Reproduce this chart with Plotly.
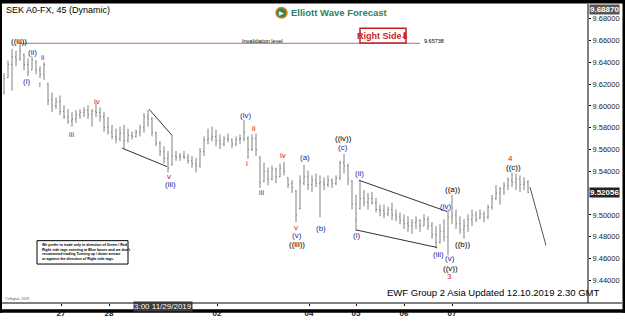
import plotly.graph_objects as go

# ---------------- data (45-min bars, sampled) ----------------
bar_index = list(range(132))
highs = [9.6300, 9.6416, 9.6523, 9.6506, 9.6574, 9.6479, 9.6434, 9.6452, 9.6416, 9.6363,
         9.6399, 9.6211, 9.6122, 9.6077, 9.6095, 9.6006, 9.5970, 9.5943, 9.5961, 9.5970,
         9.5988, 9.6006, 9.5970, 9.6023, 9.5988, 9.5943, 9.5898, 9.5827, 9.5791, 9.5809,
         9.5827, 9.5791, 9.5764, 9.5782, 9.5827, 9.5934, 9.5961, 9.5898, 9.5764, 9.5675,
         9.5630, 9.5586, 9.5729, 9.5586, 9.5568, 9.5586, 9.5559, 9.5541, 9.5523, 9.5613,
         9.5720, 9.5791, 9.5809, 9.5782, 9.5738, 9.5720, 9.5747, 9.5702, 9.5720, 9.5738,
         9.5872, 9.5720, 9.5738, 9.5747, 9.5541, 9.5479, 9.5434, 9.5452, 9.5434, 9.5470,
         9.5488, 9.5345, 9.5318, 9.5229, 9.5363, 9.5461, 9.5407, 9.5363, 9.5380, 9.5363,
         9.5345, 9.5363, 9.5336, 9.5363, 9.5497, 9.5559, 9.5470, 9.5318, 9.5184, 9.5318,
         9.5229, 9.5202, 9.5211, 9.5157, 9.5095, 9.5095, 9.5077, 9.5113, 9.5050, 9.5023,
         9.5005, 9.4988, 9.4961, 9.4988, 9.4961, 9.5005, 9.4988, 9.4934, 9.4898, 9.4916,
         9.4961, 9.5050, 9.5184, 9.5050, 9.4988, 9.4961, 9.5005, 9.5050, 9.5032, 9.5050,
         9.5032, 9.5095, 9.5184, 9.5273, 9.5256, 9.5300, 9.5345, 9.5389, 9.5380, 9.5363,
         9.5345, 9.5318]
lows = [9.6104, 9.6256, 9.6140, 9.6363, 9.6416, 9.6327, 9.6273, 9.6327, 9.6291, 9.6256,
        9.6238, 9.6006, 9.5943, 9.5970, 9.5916, 9.5881, 9.5836, 9.5809, 9.5845, 9.5881,
        9.5898, 9.5881, 9.5809, 9.5898, 9.5854, 9.5764, 9.5738, 9.5693, 9.5657, 9.5675,
        9.5613, 9.5666, 9.5693, 9.5711, 9.5720, 9.5755, 9.5809, 9.5720, 9.5630, 9.5541,
        9.5470, 9.5389, 9.5452, 9.5497, 9.5497, 9.5514, 9.5470, 9.5434, 9.5389, 9.5434,
        9.5541, 9.5648, 9.5675, 9.5630, 9.5604, 9.5630, 9.5666, 9.5613, 9.5630, 9.5648,
        9.5675, 9.5514, 9.5586, 9.5541, 9.5247, 9.5300, 9.5273, 9.5318, 9.5291, 9.5345,
        9.5363, 9.5247, 9.5202, 9.4934, 9.5050, 9.5273, 9.5229, 9.5211, 9.5256, 9.4979,
        9.5229, 9.5256, 9.5247, 9.5273, 9.5318, 9.5380, 9.5273, 9.5050, 9.4854, 9.5050,
        9.5077, 9.5050, 9.5095, 9.5023, 9.4988, 9.4970, 9.4988, 9.4952, 9.4943, 9.4916,
        9.4872, 9.4845, 9.4827, 9.4872, 9.4845, 9.4898, 9.4863, 9.4782, 9.4693, 9.4738,
        9.4756, 9.4630, 9.4916, 9.4872, 9.4827, 9.4782, 9.4845, 9.4898, 9.4934, 9.4961,
        9.4934, 9.4961, 9.5050, 9.5139, 9.5095, 9.5184, 9.5229, 9.5256, 9.5229, 9.5211,
        9.5229, 9.5202]
opens = [9.6120, 9.6260, 9.6380, 9.6450, 9.6430, 9.6470, 9.6380, 9.6330, 9.6410, 9.6330,
         9.6290, 9.6200, 9.6060, 9.6000, 9.6040, 9.5950, 9.5900, 9.5860, 9.5880, 9.5920,
         9.5940, 9.5960, 9.5920, 9.5950, 9.5940, 9.5900, 9.5800, 9.5760, 9.5720, 9.5700,
         9.5750, 9.5680, 9.5730, 9.5720, 9.5760, 9.5800, 9.5900, 9.5880, 9.5750, 9.5660,
         9.5580, 9.5520, 9.5460, 9.5540, 9.5530, 9.5540, 9.5530, 9.5500, 9.5470, 9.5450,
         9.5580, 9.5690, 9.5700, 9.5720, 9.5680, 9.5650, 9.5700, 9.5690, 9.5650, 9.5690,
         9.5700, 9.5700, 9.5600, 9.5700, 9.5520, 9.5310, 9.5400, 9.5330, 9.5420, 9.5350,
         9.5430, 9.5340, 9.5290, 9.5220, 9.5060, 9.5290, 9.5350, 9.5280, 9.5320, 9.5290,
         9.5300, 9.5280, 9.5320, 9.5290, 9.5340, 9.5480, 9.5450, 9.5310, 9.5100, 9.5060,
         9.5150, 9.5120, 9.5150, 9.5110, 9.5050, 9.5040, 9.5010, 9.5050, 9.5000, 9.4980,
         9.4950, 9.4920, 9.4900, 9.4930, 9.4950, 9.4900, 9.4960, 9.4900, 9.4820, 9.4750,
         9.4850, 9.4800, 9.4980, 9.5000, 9.4920, 9.4870, 9.4900, 9.4960, 9.5000, 9.4970,
         9.5010, 9.4980, 9.5070, 9.5150, 9.5200, 9.5240, 9.5270, 9.5320, 9.5300, 9.5330,
         9.5280, 9.5300]
closes = [9.6250, 9.6380, 9.6450, 9.6420, 9.6500, 9.6380, 9.6310, 9.6420, 9.6330, 9.6290,
          9.6380, 9.6050, 9.6000, 9.6040, 9.5950, 9.5900, 9.5860, 9.5880, 9.5920, 9.5940,
          9.5960, 9.5920, 9.5950, 9.5940, 9.5900, 9.5800, 9.5760, 9.5720, 9.5700, 9.5750,
          9.5680, 9.5730, 9.5720, 9.5760, 9.5800, 9.5900, 9.5880, 9.5760, 9.5660, 9.5580,
          9.5520, 9.5430, 9.5540, 9.5530, 9.5540, 9.5530, 9.5500, 9.5470, 9.5450, 9.5580,
          9.5690, 9.5700, 9.5720, 9.5680, 9.5650, 9.5700, 9.5690, 9.5650, 9.5690, 9.5700,
          9.5760, 9.5600, 9.5700, 9.5600, 9.5300, 9.5400, 9.5330, 9.5420, 9.5350, 9.5430,
          9.5400, 9.5280, 9.5250, 9.5000, 9.5300, 9.5350, 9.5280, 9.5320, 9.5290, 9.5300,
          9.5280, 9.5320, 9.5290, 9.5340, 9.5480, 9.5450, 9.5320, 9.5100, 9.4950, 9.5150,
          9.5120, 9.5150, 9.5110, 9.5050, 9.5040, 9.5010, 9.5050, 9.5000, 9.4980, 9.4950,
          9.4920, 9.4900, 9.4930, 9.4950, 9.4900, 9.4960, 9.4900, 9.4820, 9.4750, 9.4850,
          9.4800, 9.4980, 9.5000, 9.4920, 9.4870, 9.4900, 9.4960, 9.5000, 9.4960, 9.5010,
          9.4980, 9.5070, 9.5150, 9.5200, 9.5240, 9.5270, 9.5320, 9.5300, 9.5330, 9.5280,
          9.5300, 9.5206]

x_tick_pos = [14.25, 26.25, 53.25, 76.25, 88, 100, 112]
x_tick_text = ["27", "28", "02", "04", "05", "06", "07"]
y_ticks = [9.44, 9.46, 9.48, 9.50, 9.54, 9.56, 9.58, 9.60, 9.62, 9.64, 9.66, 9.68]

invalidation_level = 9.65738
last_price = 9.52056
top_price = 9.68870

BLUE = "#1f1fa0"
RED = "#c81e1e"
BLACK = "#000000"
# wave labels: text, bar position, price, colour
wave_labels = [
    ("((iii))", 3.75, 9.6586, BLACK), ("(i)", 5.5, 9.6220, BLUE), ("(ii)", 7.0, 9.6488, BLUE),
    ("ii", 9.75, 9.6443, RED), ("i", 9.0, 9.6193, RED), ("iii", 17.0, 9.5738, RED),
    ("iv", 23.25, 9.6041, RED), ("v", 41.25, 9.5354, RED), ("(iii)", 41.5, 9.5278, BLUE),
    ("(iv)", 60.25, 9.5916, BLUE), ("i", 60.75, 9.5470, RED), ("ii", 62.5, 9.5791, RED),
    ("iii", 64.5, 9.5202, RED), ("iv", 69.75, 9.5541, RED), ("v", 73.0, 9.4885, RED),
    ("(v)", 73.25, 9.4815, BLUE), ("((iii))", 73.25, 9.4725, BLACK), ("(a)", 75.25, 9.5523, BLUE),
    ("(b)", 79.25, 9.4880, BLUE), ("(c)", 84.75, 9.5622, BLUE), ("((iv))", 84.75, 9.5705, BLACK),
    ("(i)", 88.0, 9.4809, BLUE), ("(ii)", 88.75, 9.5380, BLUE), ("(iii)", 108.5, 9.4639, BLUE),
    ("(iv)", 110.25, 9.5077, BLUE), ("(v)", 111.5, 9.4597, BLUE), ("((v))", 111.5, 9.4508, BLACK),
    ("3", 111.25, 9.4440, RED), ("((a))", 112.0, 9.5229, BLACK), ("((b))", 114.5, 9.4729, BLACK),
    ("((c))", 127.25, 9.5434, BLACK), ("4", 126.5, 9.5517, RED),
]

# trend lines: (x0, y0, x1, y1)
wedge_lines = [
    (36.25, 9.5970, 42.0, 9.5729), (29.5, 9.5613, 40.75, 9.5443),
    (88.75, 9.5318, 110.75, 9.5032), (88.0, 9.4863, 108.25, 9.4702),
]
projection = (131.5, 9.5255, 135.5, 9.4720)

# ---------------- figure ----------------
fig = go.Figure()
fig.add_trace(go.Ohlc(
    x=bar_index, open=opens, high=highs, low=lows, close=closes,
    increasing=dict(line=dict(color="#808080", width=1)),
    decreasing=dict(line=dict(color="#808080", width=1)),
    tickwidth=0.25, hoverinfo="skip", showlegend=False,
))

FONT = "Liberation Sans, Arial, sans-serif"
shapes = []
for (x0, y0, x1, y1) in wedge_lines:
    shapes.append(dict(type="line", xref="x", yref="y", x0=x0, y0=y0, x1=x1, y1=y1,
                       line=dict(color="#333333", width=1)))
shapes.append(dict(type="line", xref="x", yref="y", x0=projection[0], y0=projection[1],
                   x1=projection[2], y1=projection[3], line=dict(color="#555555", width=1)))
shapes.append(dict(type="line", xref="x", yref="y", x0=3.9, y0=invalidation_level, x1=104,
                   y1=invalidation_level, line=dict(color="#c06a6a", width=1)))

# frame (paper coords: plot area x 3..588 px, y 4..311 px)
def px_x(p):
    return (p - 3) / 585.0

def px_y(p):
    return (311 - p) / 307.0

shapes += [
    dict(type="rect", xref="paper", yref="paper", x0=px_x(0), x1=px_x(625), y0=px_y(0), y1=px_y(3.5),
         fillcolor="black", line=dict(width=0), layer="above"),
    dict(type="rect", xref="paper", yref="paper", x0=px_x(0), x1=px_x(625), y0=px_y(317.5), y1=px_y(321),
         fillcolor="black", line=dict(width=0), layer="above"),
    dict(type="rect", xref="paper", yref="paper", x0=px_x(0), x1=px_x(2), y0=px_y(0), y1=px_y(321),
         fillcolor="black", line=dict(width=0), layer="above"),
    dict(type="rect", xref="paper", yref="paper", x0=px_x(622.5), x1=px_x(625), y0=px_y(0), y1=px_y(321),
         fillcolor="black", line=dict(width=0), layer="above"),
    dict(type="line", xref="paper", yref="paper", x0=px_x(2), x1=px_x(622), y0=0, y1=0,
         line=dict(color="black", width=1)),
    dict(type="line", xref="paper", yref="paper", x0=1, x1=1, y0=0, y1=1,
         line=dict(color="black", width=1)),
    # legend box
    dict(type="rect", xref="paper", yref="paper", x0=px_x(37), x1=px_x(128), y0=px_y(271), y1=px_y(247),
         fillcolor="white", line=dict(color="black", width=1)),
    # right side box
    dict(type="rect", xref="paper", yref="paper", x0=px_x(360), x1=px_x(406), y0=px_y(44), y1=px_y(29),
         fillcolor="white", line=dict(color="#c81e1e", width=1.5)),
    # logo circle
    dict(type="circle", xref="paper", yref="paper", x0=px_x(276), x1=px_x(287), y0=px_y(18.5), y1=px_y(7.5),
         fillcolor="#2e8b57", line=dict(color="#e07b20", width=1.5)),
]

annotations = []
for (txt, xi, yp, col) in wave_labels:
    annotations.append(dict(x=xi, y=yp, xref="x", yref="y", text=txt, showarrow=False,
                            font=dict(family=FONT, size=8, color=col),
                            xanchor="center", yanchor="middle"))

def paper_text(text, x, y, size, color="black", xanchor="left", bold=False, bgcolor=None, align="left"):
    d = dict(x=px_x(x), y=px_y(y), xref="paper", yref="paper", text=("<b>%s</b>" % text) if bold else text,
             showarrow=False, font=dict(family=FONT, size=size, color=color),
             xanchor=xanchor, yanchor="middle", align=align)
    if bgcolor:
        d["bgcolor"] = bgcolor
        d["borderpad"] = 0
    annotations.append(d)

paper_text("SEK A0-FX, 45 (Dynamic)", 4, 10.5, 9)
paper_text("Elliott Wave Forecast", 289, 13, 9.5, color="#2f7f5f", bold=True)
paper_text("▶", 281.5, 13, 6, color="white", xanchor="center")
paper_text("Right Side⬇", 383, 36.5, 9, color="#c81e1e", xanchor="center", bold=True)
paper_text("Invalidation level", 262, 41.5, 5.5, xanchor="center")
paper_text("9.65738", 422, 41.5, 5.5)
paper_text("We prefer to trade only in direction of Green / Red<br>Right side tags entering at Blue boxes and we don't<br>"
           "recommend trading Turning up / down arrows<br>or against the direction of Right side tags.",
           40, 259, 3.6, bold=True)
paper_text("EWF Group 2 Asia Updated 12.10.2019 2.30 GMT", 385, 300.5, 9.5)
paper_text("©eSignal, 2019", 2.5, 307, 3.5, color="#555555")
paper_text("3:00 11/29/2019", 163, 314.5, 8, color="white", xanchor="center", bgcolor="#3a3a3a")
# highlighted prices on the right axis
annotations.append(dict(x=1, y=top_price, xref="paper", yref="y", text="<b>%.5f</b>" % top_price,
                        showarrow=False, font=dict(family=FONT, size=8, color="white"),
                        xanchor="left", yanchor="middle", bgcolor="#555555", borderpad=0, xshift=1))
annotations.append(dict(x=1, y=last_price, xref="paper", yref="y", text="<b>%.5f</b>" % last_price,
                        showarrow=False, font=dict(family=FONT, size=8, color="white"),
                        xanchor="left", yanchor="middle", bgcolor="#222222", borderpad=0, xshift=1))

fig.update_layout(
    width=625, height=321,
    margin=dict(l=3, r=37, t=4, b=10),
    paper_bgcolor="white", plot_bgcolor="white",
    showlegend=False,
    shapes=shapes, annotations=annotations,
    xaxis=dict(range=[-0.25, 146.0], rangeslider=dict(visible=False), showgrid=False, zeroline=False,
               tickmode="array", tickvals=x_tick_pos, ticktext=["<b>%s</b>" % t for t in x_tick_text],
               ticks="outside", ticklen=2, tickcolor="black",
               tickfont=dict(family=FONT, size=8, color="#222222"), fixedrange=True),
    yaxis=dict(range=[9.4193, 9.6934], side="right", showgrid=False, zeroline=False,
               tickmode="array", tickvals=y_ticks, ticktext=["%.5f" % v for v in y_ticks],
               ticks="outside", ticklen=2, tickcolor="black",
               tickfont=dict(family=FONT, size=7.5, color="#222222"), fixedrange=True),
)

fig.write_html("out.html")
